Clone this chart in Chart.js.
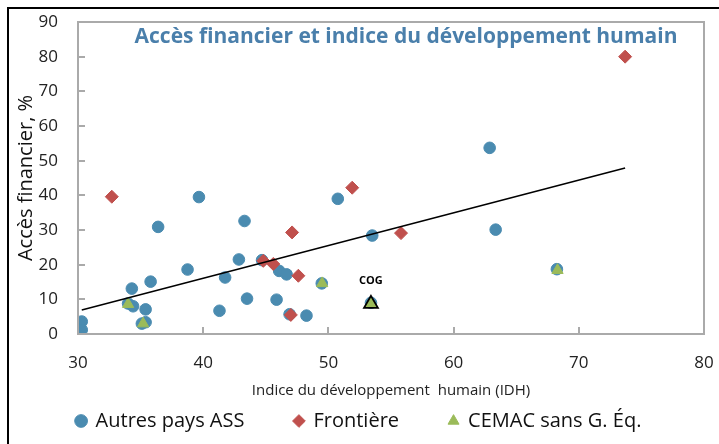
<!DOCTYPE html>
<html>
<head>
<meta charset="utf-8">
<script src="https://cdn.jsdelivr.net/npm/chart.js@4"></script>
<style>
    html, body { margin: 0; padding: 0; background: #ffffff; }
    #wrap { position: relative; width: 719px; height: 444px; }
    #frame { position: absolute; left: 7px; top: 7px; width: 740px; height: 460px;
             border-top: 2px solid #000; border-left: 2px solid #000; pointer-events: none; }
</style>
</head>
<body>
<div id="wrap">
    <canvas id="chart" width="719" height="444"></canvas>
    <div id="frame"></div>
</div>
<script>
// ─── Data ───────────────────────────────────────────────────────────────────
const otherIdh = [30.3, 30.3, 34.0, 34.4, 34.3, 35.4, 35.4, 35.1, 35.8, 36.4, 38.75, 39.66, 41.3, 41.75,
                  42.85, 43.3, 43.5, 44.7, 45.86, 46.07, 46.66, 46.9, 48.25, 49.47, 50.75, 53.5, 53.4,
                  62.88, 63.36, 68.25];
const otherAcc = [3.6, 1.2, 8.8, 8.0, 13.1, 7.1, 3.4, 3.0, 15.1, 30.9, 18.6, 39.5, 6.7, 16.3,
                  21.5, 32.6, 10.2, 21.3, 9.9, 18.2, 17.2, 5.7, 5.3, 14.6, 39.0, 28.4, 9.0,
                  53.7, 30.1, 18.7];

const frontIdh = [32.7, 44.8, 45.6, 47.1, 47.6, 47.0, 51.9, 55.8, 73.7];
const frontAcc = [39.6, 21.1, 20.2, 29.3, 16.8, 5.5, 42.2, 29.1, 80.0];

const cemacIdh = [34.0, 35.2, 49.5, 68.3, 53.4];
const cemacAcc = [8.6, 3.0, 14.6, 18.4, 8.7];
const cemacTag = ["", "", "", "", "COG"];

const trendIdh = [30.3, 73.7];
const trendAcc = [6.9, 47.9];

const xTicks = [30, 40, 50, 60, 70, 80];
const yTicks = [0, 10, 20, 30, 40, 50, 60, 70, 80, 90];

const SERIES_NAMES = ["Autres pays ASS", "Frontière", "CEMAC sans G. Éq."];
const TITLE_TEXT = "Accès financier et indice du développement humain";

// ─── Colors ─────────────────────────────────────────────────────────────────
const BLUE  = "#4a8bb0";
const RED   = "#c0504d";
const GREEN = "#9bbb59";
const FRAME = "#aaaaaa";

function points(xs, ys) {
    return xs.map((x, i) => ({ x: x, y: ys[i] }));
}

// COG point gets a bigger marker with a black outline
const cemacRadius = cemacTag.map(t => t ? 8 : 6.5);
const cemacBorder = cemacTag.map(t => t ? "#000000" : GREEN);
const cemacBorderW = cemacTag.map(t => t ? 1.8 : 1);

// ─── Plugins ────────────────────────────────────────────────────────────────
// wide gaps between legend items without the tall box that labels.padding gives
const LEGEND_TRIM = 37;
const legendTrim = {
    id: "legendTrim",
    afterInit(chart) {
        const legend = chart.legend;
        const fit = legend.fit;
        legend.fit = function () {
            fit.call(this);
            this.height -= LEGEND_TRIM;
        };
    },
    afterLayout(chart) {
        chart.legend.top -= LEGEND_TRIM;   // keep bottom so the clip box still holds the text
    }
};

// grey frame round the plot area with short inward tick marks (filled bars)
const plotFrame = {
    id: "plotFrame",
    afterDraw(chart) {
        const ctx = chart.ctx;
        const a = chart.chartArea;
        const sx = chart.scales.x;
        const sy = chart.scales.y;
        const L = Math.round(a.left), R = Math.round(a.right);
        const T = Math.round(a.top), B = Math.round(a.bottom);
        ctx.save();
        ctx.fillStyle = FRAME;
        ctx.fillRect(L - 1, T - 1, R - L + 2, 2);   // top
        ctx.fillRect(L - 1, B - 1, R - L + 2, 2);   // bottom
        ctx.fillRect(L - 1, T - 1, 2, B - T + 2);   // left
        ctx.fillRect(R - 1, T - 1, 2, B - T + 2);   // right
        for (const v of xTicks) {
            const px = Math.round(sx.getPixelForValue(v));
            ctx.fillRect(px - 1, B - 7, 2, 7);
        }
        for (const v of yTicks) {
            const py = Math.round(sy.getPixelForValue(v));
            ctx.fillRect(L, py - 1, 7, 2);
        }
        ctx.restore();
    }
};

const titleInside = {
    id: "titleInside",
    afterDraw(chart) {
        const { ctx, chartArea: a } = chart;
        ctx.save();
        ctx.fillStyle = "#4a7fab";
        ctx.font = "bold 21px 'Open Sans'";
        ctx.textAlign = "center";
        ctx.textBaseline = "middle";
        ctx.fillText(TITLE_TEXT, (a.left + a.right) / 2 + 15, a.top + 15);
        ctx.restore();
    }
};

const pointTags = {
    id: "pointTags",
    afterDatasetsDraw(chart) {
        const { ctx, scales } = chart;
        ctx.save();
        ctx.fillStyle = "#000000";
        ctx.font = "bold 11px 'Open Sans'";
        ctx.textAlign = "center";
        ctx.textBaseline = "middle";
        cemacTag.forEach((t, i) => {
            if (!t) return;
            const px = scales.x.getPixelForValue(cemacIdh[i]);
            const py = scales.y.getPixelForValue(cemacAcc[i]);
            ctx.fillText(t, px, py - 23);
        });
        ctx.restore();
    }
};

// ─── Chart ──────────────────────────────────────────────────────────────────
new Chart(document.getElementById("chart"), {
    type: "scatter",
    data: {
        datasets: [
            {
                label: SERIES_NAMES[0],
                data: points(otherIdh, otherAcc),
                backgroundColor: BLUE,
                borderColor: BLUE,
                pointStyle: "circle",
                pointRadius: 5.8,
                order: 3,
            },
            {
                label: SERIES_NAMES[1],
                data: points(frontIdh, frontAcc),
                backgroundColor: RED,
                borderColor: RED,
                pointStyle: "rectRot",
                pointRadius: 6.5,
                order: 2,
            },
            {
                label: SERIES_NAMES[2],
                data: points(cemacIdh, cemacAcc),
                backgroundColor: GREEN,
                borderColor: cemacBorder,
                borderWidth: cemacBorderW,
                pointStyle: "triangle",
                pointRadius: cemacRadius,
                order: 1,
            },
            {
                type: "line",
                label: "trend",
                data: points(trendIdh, trendAcc),
                borderColor: "#000000",
                borderWidth: 1.5,
                pointRadius: 0,
                fill: false,
                order: 0,
            },
        ],
    },
    options: {
        responsive: false,
        animation: false,
        layout: { padding: { left: 14, right: 15, top: 22, bottom: 3 } },
        plugins: {
            legend: {
                position: "bottom",
                labels: {
                    filter: item => item.text !== "trend",
                    sort: (a, b) => a.datasetIndex - b.datasetIndex,
                    usePointStyle: true,
                    boxWidth: 9,
                    boxHeight: 9,
                    padding: 50,
                    color: "#111111",
                    font: { size: 20, family: "'Open Sans'" },
                },
            },
            tooltip: { enabled: false },
        },
        scales: {
            x: {
                type: "linear",
                min: 30,
                max: 80,
                afterBuildTicks: s => { s.ticks = xTicks.map(v => ({ value: v })); },
                afterFit: s => { s.height = 64; s.paddingLeft = 0; s.paddingRight = 0; },
                grid: { display: false, drawTicks: false, tickLength: 0 },
                border: { display: false },
                ticks: { color: "#222222", padding: 19, font: { size: 17, family: "'Open Sans'" } },
                title: {
                    display: true,
                    text: "Indice du développement  humain (IDH)",
                    color: "#222222",
                    padding: { top: 0, bottom: -2 },
                    font: { size: 15, family: "'Open Sans'" },
                },
            },
            y: {
                min: 0,
                max: 90,
                afterBuildTicks: s => { s.ticks = yTicks.map(v => ({ value: v })); },
                afterFit: s => { s.width = 64; s.paddingTop = 0; s.paddingBottom = 0; },
                grid: { display: false, drawTicks: false, tickLength: 0 },
                border: { display: false },
                ticks: { color: "#222222", padding: 20, font: { size: 17, family: "'Open Sans'" } },
                title: {
                    display: true,
                    text: "Accès financier, %",
                    color: "#111111",
                    padding: { top: 0, bottom: 0 },
                    font: { size: 20, family: "'Open Sans'" },
                },
            },
        },
    },
    plugins: [legendTrim, plotFrame, titleInside, pointTags],
});
</script>
</body>
</html>
